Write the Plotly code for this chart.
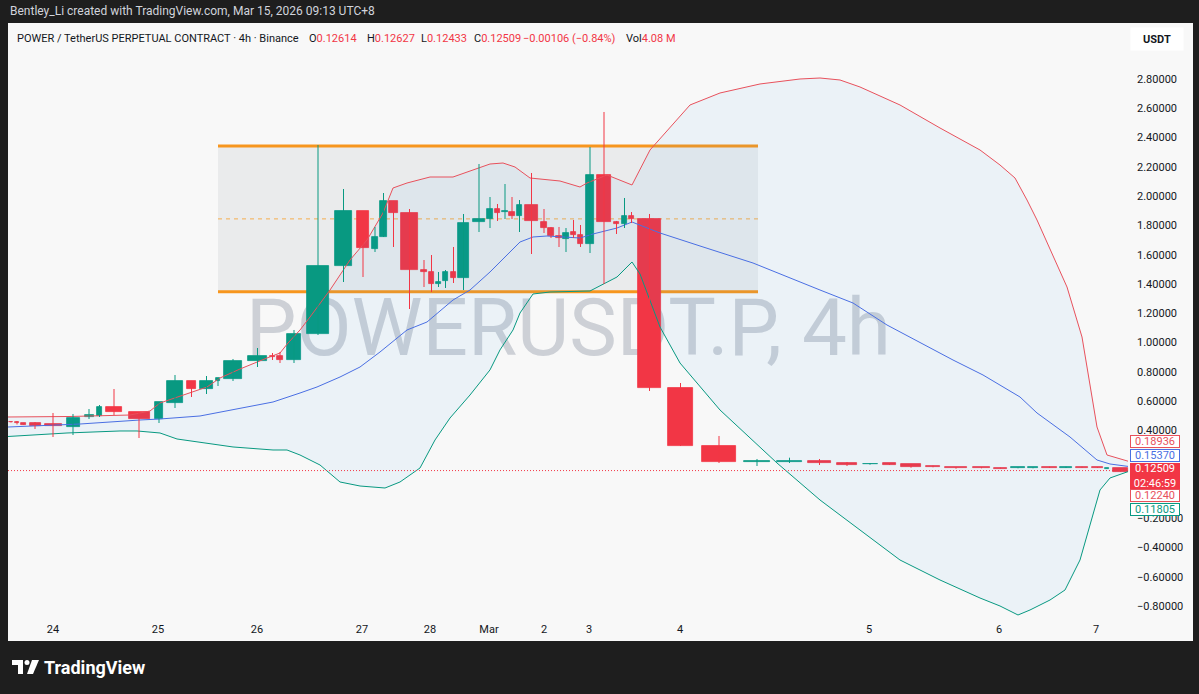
import plotly.graph_objects as go

# ---------------- data ----------------
day_labels = ['24', '25', '26', '27', '28', 'Mar', '2', '3', '4', '5', '6', '7']
day_slots = [53, 158, 257, 362, 430, 489, 544, 589, 680, 869, 999, 1096]

bar_slot = [11, 17, 23.5, 35, 53, 73, 89, 99.5, 114, 139, 159, 175, 191.5, 206.5, 218, 233, 257.5,
            272.5, 280, 294, 318, 343.5, 363, 375, 383.5, 393.5, 409.5, 424, 431.5, 438.5, 445.5,
            453.5, 463.5, 479, 490, 497.5, 505, 512, 519.5, 531.5, 544, 551, 559, 566, 573.5, 580.5,
            590, 604, 616.5, 624.5, 631.5, 649.5, 680.5, 719, 757, 789.5, 819.5, 847, 870, 889.5,
            911, 933, 956, 981.5, 1000.5, 1018, 1033, 1049.5, 1066, 1082, 1097.5, 1107, 1120.5]

opens = [0.4604, 0.4570, 0.4502, 0.4502, 0.4433, 0.4228, 0.4912, 0.4980, 0.5595, 0.5253, 0.4775,
         0.5868, 0.7371, 0.6824, 0.7371, 0.7507, 0.8737, 0.9079, 0.9079, 0.8805, 1.0581, 1.5227,
         1.8984, 1.6388, 1.7208, 1.9667, 1.8847, 1.4953, 1.4817, 1.3997, 1.4202, 1.4817, 1.4407,
         1.8232, 1.8437, 1.9120, 1.8915, 1.8915, 1.8642, 1.9394, 1.8232, 1.7822, 1.7276, 1.7071,
         1.7549, 1.7344, 1.6729, 2.1443, 1.8232, 1.8096, 1.8642, 1.8437, 0.6893, 0.2931, 0.1817,
         0.1838, 0.1906, 0.1769, 0.1680, 0.1749, 0.1680, 0.1585, 0.1476, 0.1496, 0.1448, 0.1407,
         0.1407, 0.1496, 0.1428, 0.1517, 0.1496, 0.1380, 0.1400]
highs = [0.4604, 0.4638, 0.4502, 0.4570, 0.5185, 0.5117, 0.5458, 0.5731, 0.6824, 0.5253, 0.5936,
         0.7781, 0.7371, 0.7712, 0.7576, 0.8874, 0.9625, 0.9283, 0.9352, 1.0855, 2.3492, 2.0486,
         1.8984, 1.7891, 2.0213, 1.9667, 1.9120, 1.5636, 1.5978, 1.4817, 1.4953, 1.6525, 1.8779,
         2.2194, 1.9940, 1.9462, 2.0828, 1.9940, 1.9735, 2.1580, 1.9120, 1.7891, 1.7891, 1.7822,
         1.8369, 1.8027, 2.3356, 2.5747, 1.8301, 1.9872, 1.8915, 1.8779, 0.7234, 0.3614, 0.2043,
         0.2131, 0.2043, 0.1838, 0.1769, 0.1769, 0.1701, 0.1585, 0.1496, 0.1496, 0.1448, 0.1476,
         0.1476, 0.1517, 0.1517, 0.1517, 0.1496, 0.1428, 0.1407]
lows = [0.4536, 0.4399, 0.4399, 0.4092, 0.3545, 0.3682, 0.4775, 0.4912, 0.5048, 0.3477, 0.4502,
        0.5526, 0.6278, 0.6483, 0.7029, 0.7371, 0.8327, 0.8805, 0.8600, 0.8600, 1.0513, 1.4134,
        1.4475, 1.6183, 1.7208, 1.6525, 1.2289, 1.3792, 1.3450, 1.3792, 1.3724, 1.4065, 1.3587,
        1.7549, 1.7822, 1.8301, 1.8437, 1.8437, 1.7549, 1.6046, 1.7481, 1.7139, 1.6525, 1.6183,
        1.7139, 1.6525, 1.6115, 1.3997, 1.7413, 1.7822, 1.8164, 0.6688, 0.2931, 0.1769, 0.1564,
        0.1769, 0.1633, 0.1564, 0.1653, 0.1633, 0.1448, 0.1476, 0.1380, 0.1407, 0.1380, 0.1407,
        0.1407, 0.1428, 0.1428, 0.1448, 0.1428, 0.1380, 0.1175]
closes = [0.4536, 0.4468, 0.4399, 0.4297, 0.4317, 0.4843, 0.5048, 0.5595, 0.5253, 0.4775, 0.5936,
          0.7371, 0.6824, 0.7371, 0.7576, 0.8737, 0.9079, 0.9010, 0.8805, 1.0581, 1.5227, 1.8984,
          1.6456, 1.7208, 1.9667, 1.8847, 1.4953, 1.4817, 1.3997, 1.4134, 1.4817, 1.4407, 1.8164,
          1.8437, 1.9120, 1.8847, 1.8984, 1.8642, 1.9394, 1.8301, 1.7822, 1.7276, 1.7139, 1.7481,
          1.7344, 1.6729, 2.1443, 1.8232, 1.8096, 1.8642, 1.8437, 0.6893, 0.2931, 0.1838, 0.1885,
          0.1926, 0.1769, 0.1653, 0.1735, 0.1653, 0.1496, 0.1496, 0.1407, 0.1428, 0.1380, 0.1476,
          0.1476, 0.1428, 0.1496, 0.1448, 0.1428, 0.1428, 0.1180]

# Bollinger bands (20, 2)
bb_upper_slot = [8, 70, 130, 150, 160, 183, 207, 220, 240, 267, 280, 288, 300, 310, 330, 350, 367,
                 383, 393, 407, 430, 453, 467, 490, 503, 515, 530, 560, 580, 587, 607, 632, 650, 670,
                 690, 720, 760, 800, 820, 840, 860, 900, 940, 980, 1000, 1015, 1027, 1037, 1067, 1082,
                 1097, 1107, 1128]
bb_upper = [0.4912, 0.4946, 0.5048, 0.5321, 0.5868, 0.6415, 0.6961, 0.7576, 0.8190, 0.8942, 0.9283,
            0.9966, 1.0854, 1.1742, 1.3587, 1.5636, 1.7003, 1.8847, 2.0555, 2.0896, 2.1306, 2.1306,
            2.1648, 2.2194, 2.2262, 2.1989, 2.1238, 2.1033, 2.0623, 2.0896, 2.1443, 2.0760, 2.3151,
            2.4723, 2.6225, 2.7045, 2.7660, 2.8001, 2.8069, 2.7933, 2.7455, 2.6225, 2.4654, 2.3151,
            2.2126, 2.1238, 1.9735, 1.8369, 1.3792, 1.0376, 0.4228, 0.2316, 0.18936]

bb_basis_slot = [8, 80, 140, 160, 200, 233, 273, 300, 317, 340, 360, 380, 395, 407, 427, 453, 470,
                 490, 520, 533, 547, 567, 580, 593, 617, 632, 660, 700, 753, 820, 853, 887, 953, 983,
                 1020, 1037, 1070, 1097, 1110, 1128]
bb_basis = [0.4228, 0.4433, 0.4706, 0.4775, 0.4980, 0.5390, 0.5936, 0.6551, 0.6961, 0.7644, 0.8327,
            0.9352, 1.0171, 1.0855, 1.1401, 1.2904, 1.3587, 1.4817, 1.6866, 1.7208, 1.7276, 1.7208,
            1.7139, 1.7413, 1.7822, 1.8232, 1.7481, 1.6593, 1.5431, 1.3587, 1.2699, 1.1196, 0.8805,
            0.7781, 0.6278, 0.5185, 0.3546, 0.1974, 0.1701, 0.15370]

bb_lower_slot = [8, 67, 120, 137, 160, 177, 233, 273, 287, 300, 320, 340, 360, 385, 400, 420, 435,
                 450, 470, 490, 500, 513, 520, 533, 550, 590, 617, 632, 640, 660, 680, 720, 777, 797,
                 820, 860, 900, 940, 980, 1000, 1018, 1030, 1050, 1065, 1080, 1090, 1100, 1110, 1128]
bb_lower = [0.3580, 0.3819, 0.3956, 0.3956, 0.3819, 0.3409, 0.2863, 0.2658, 0.2658, 0.2316, 0.1633,
            0.0472, 0.0198, 0.0061, 0.0472, 0.1428, 0.3341, 0.4843, 0.6414, 0.8129, 0.9494, 1.0855,
            1.2016, 1.3314, 1.3450, 1.3519, 1.4475, 1.5500, 1.4680, 1.1060, 0.8600, 0.5389, 0.1769,
            0.0608, -0.0758, -0.2808, -0.4857, -0.6223, -0.7453, -0.7999, -0.8614, -0.8272, -0.7590,
            -0.6906, -0.4857, -0.2466, -0.0075, 0.0745, 0.11805]

# rectangle drawing (range box)
box_start, box_end = 218, 758
box_top, box_bottom = 2.343, 1.346

# price-scale labels
last_price = 0.12509
countdown = '02:46:59'
lbl_upper, lbl_basis, lbl_extra, lbl_lower = 0.18936, 0.15370, 0.12240, 0.11805

# visible price-scale ticks (0.2 and 0.0 are hidden behind the value labels)
y_ticks = [2.8, 2.6, 2.4, 2.2, 2.0, 1.8, 1.6, 1.4, 1.2, 1.0, 0.8, 0.6, 0.4,
           -0.2, -0.4, -0.6, -0.8]

# styling-only list: candle body widths (in slot units)
body_w = [4, 4, 5, 11, 17, 13, 9, 5, 16, 21, 8, 16, 9, 13, 4, 18, 19, 5, 6, 14, 22, 17, 12, 6, 7, 9,
          17, 6, 5, 5, 5, 5, 11, 12, 6, 5, 6, 6, 5, 13, 6, 6, 6, 6, 5, 5, 8, 14, 5, 5, 5, 23, 25, 34,
          26, 25, 23, 20, 15, 13, 20, 14, 22, 17, 13, 14, 10, 15, 12, 12, 11, 4, 15]

# ---------------- style ----------------
GREEN = '#089981'
RED = '#f23645'
BLUE = '#4a6fe3'
UPPER_C = '#e8515c'
FONT = 'Roboto'
TXT = '#131722'

PL, PR, PT, PB = 8, 1129, 55, 617


def fx(px):
    return (px - PL) / (PR - PL)


def fy(py):
    return (PB - py) / (PB - PT)


fig = go.Figure()

# Bollinger band fill + lines
fig.add_trace(go.Scatter(x=bb_upper_slot, y=bb_upper, mode='lines',
                         line=dict(color=UPPER_C, width=1), hoverinfo='skip'))
fig.add_trace(go.Scatter(x=bb_lower_slot, y=bb_lower, mode='lines', fill='tonexty',
                         fillcolor='rgba(33,150,243,0.06)',
                         line=dict(color=GREEN, width=1), hoverinfo='skip'))
fig.add_trace(go.Scatter(x=bb_basis_slot, y=bb_basis, mode='lines',
                         line=dict(color=BLUE, width=1), hoverinfo='skip'))

# candle bodies
colors = [GREEN if c >= o else RED for o, c in zip(opens, closes)]
bases = [min(o, c) for o, c in zip(opens, closes)]
heights = [abs(c - o) for o, c in zip(opens, closes)]
fig.add_trace(go.Bar(x=bar_slot, y=heights, base=bases, width=body_w,
                     marker=dict(color=colors, line=dict(color=colors, width=0.8)),
                     hoverinfo='skip'))

# wicks
for col in (GREEN, RED):
    wx, wy = [], []
    for s, h, l, c in zip(bar_slot, highs, lows, colors):
        if c == col:
            wx += [s, s, None]
            wy += [l, h, None]
    fig.add_trace(go.Scatter(x=wx, y=wy, mode='lines', line=dict(color=col, width=1),
                             hoverinfo='skip'))

shapes = []
# panel background
shapes.append(dict(type='rect', xref='paper', yref='paper', x0=fx(8), x1=fx(1193),
                   y0=fy(641), y1=fy(23), fillcolor='#f8f8f8', line=dict(width=0), layer='below'))
# watermark
shapes.append(dict(type='rect', xref='x domain', yref='y domain', x0=0, x1=1,
                   y0=2 * fy(322) - 1, y1=1, line=dict(width=0), fillcolor='rgba(0,0,0,0)',
                   layer='below',
                   label=dict(text='POWERUSDT.P, 4h', textposition='middle center',
                              font=dict(family=FONT, size=80, color='#cdd0d6', weight=400))))
# range box
shapes.append(dict(type='rect', xref='x', yref='y', x0=box_start, x1=box_end, y0=box_bottom,
                   y1=box_top, fillcolor='rgba(120,123,134,0.10)', line=dict(width=0),
                   layer='below'))
for lv in (box_top, box_bottom):
    shapes.append(dict(type='line', xref='x', yref='y', x0=box_start, x1=box_end, y0=lv, y1=lv,
                       line=dict(color='#f7961e', width=3), layer='below'))
shapes.append(dict(type='line', xref='x', yref='y', x0=box_start, x1=box_end,
                   y0=(box_top + box_bottom) / 2, y1=(box_top + box_bottom) / 2,
                   line=dict(color='#f5ae4f', width=1, dash='4px,4px'), layer='below'))
# last price line
shapes.append(dict(type='line', xref='x domain', yref='y', x0=0, x1=1, y0=last_price,
                   y1=last_price, line=dict(color=RED, width=1, dash='1px,2px'), layer='above'))


# TradingView logo glyph
def P(px, py):
    return f'{fx(px):.5f},{fy(py):.5f}'


shapes.append(dict(type='path', xref='paper', yref='paper',
                   path=f'M{P(12,660)} L{P(23,660)} L{P(23,674)} L{P(18,674)} L{P(18,665)} L{P(12,665)} Z',
                   fillcolor='white', line=dict(width=0)))
shapes.append(dict(type='circle', xref='paper', yref='paper', x0=fx(24.5), x1=fx(29.5),
                   y0=fy(665), y1=fy(660), fillcolor='white', line=dict(width=0)))
shapes.append(dict(type='path', xref='paper', yref='paper',
                   path=f'M{P(32,660)} L{P(39,660)} L{P(33,674)} L{P(27,674)} Z',
                   fillcolor='white', line=dict(width=0)))

annotations = []


def ann(text, px, py, size=11, color=TXT, xanchor='left', **kw):
    annotations.append(dict(text=text, x=fx(px), y=fy(py), xref='paper', yref='paper',
                            xanchor=xanchor, yanchor='middle', showarrow=False,
                            font=dict(family=FONT, size=size, color=color), **kw))


ann('Bentley_Li created with TradingView.com, Mar 15, 2026 09:13 UTC+8', 8, 11, size=12,
    color='#d1d4dc')
ann('POWER / TetherUS PERPETUAL CONTRACT · 4h · Binance', 15, 38)
R = "<span style='color:%s'>%s</span>"
ann('O' + R % (RED, f'{0.12614:.5f}'), 307, 38)
ann('H' + R % (RED, f'{0.12627:.5f}'), 365, 38)
ann('L' + R % (RED, f'{0.12433:.5f}'), 419, 38)
ann('C' + R % (RED, f'{last_price:.5f}'), 472, 38)
ann(R % (RED, '−0.00106 (−0.84%)'), 521, 38)
ann('Vol' + R % (RED, '4.08 M'), 624, 38)
ann('<b>USDT</b>', 1157, 39, size=11, xanchor='center', bgcolor='white', width=50, height=20)
ann('<b>TradingView</b>', 42, 667, size=18, color='white')

# price-scale value labels
for val, py, col in ((lbl_upper, 442, UPPER_C), (lbl_basis, 455.5, BLUE),
                     (lbl_extra, 495.5, UPPER_C), (lbl_lower, 509, GREEN)):
    ann(f'{val:.5f}', 1155, py, size=11, color=col, xanchor='center', bgcolor='white',
        bordercolor=col, borderwidth=1, borderpad=0, width=48, height=11)
ann(f'{last_price:.5f}<br>{countdown}', 1155, 475.5, size=11, color='white', xanchor='center',
    bgcolor=RED, bordercolor=RED, borderwidth=1, borderpad=0, width=48, height=24)

fig.update_layout(
    width=1199, height=694,
    margin=dict(l=PL, r=1199 - PR, t=PT, b=694 - PB),
    paper_bgcolor='#1e1e1e', plot_bgcolor='rgba(0,0,0,0)',
    showlegend=False, barmode='overlay', bargap=0,
    shapes=shapes, annotations=annotations,
    font=dict(family=FONT, size=11, color=TXT),
    xaxis=dict(range=[PL, PR], tickvals=day_slots, ticktext=day_labels, showgrid=False,
               zeroline=False, showline=False, ticks='', ticklabelstandoff=4,
               tickfont=dict(family=FONT, size=11, color=TXT), fixedrange=True),
    yaxis=dict(range=[-0.8751, 2.964], side='right', tickvals=y_ticks, tickformat='.5f',
               showgrid=False, zeroline=False, showline=False, ticks='', ticklabelstandoff=7,
               tickfont=dict(family=FONT, size=11, color=TXT), fixedrange=True),
)

fig.write_html('out.html', config={'displayModeBar': False},
               post_script="document.body.style.margin='0px';")
